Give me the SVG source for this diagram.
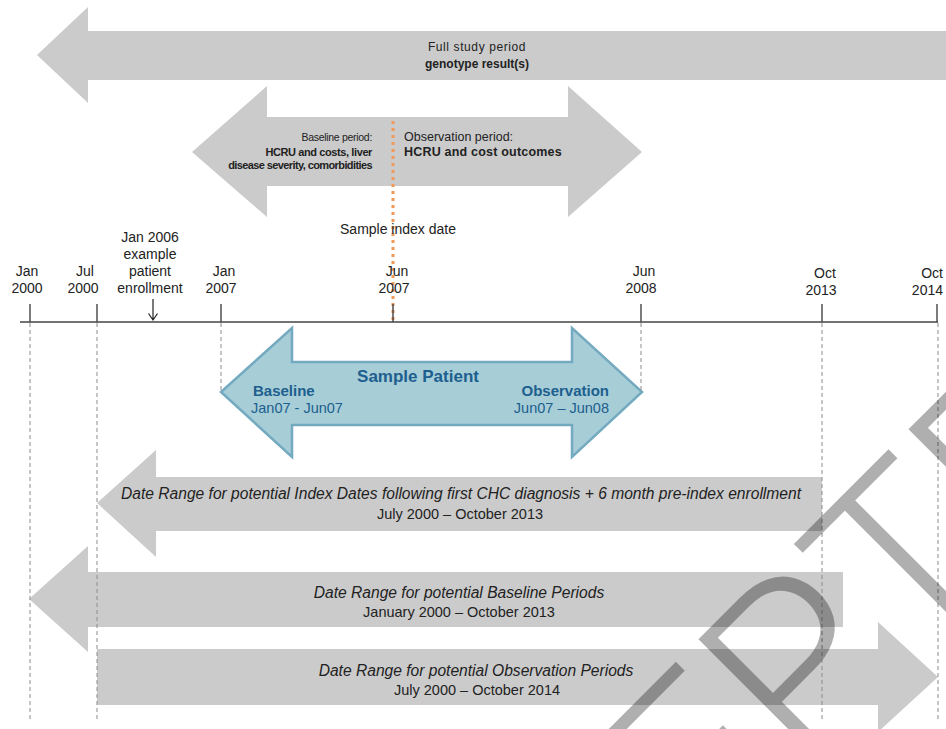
<svg xmlns="http://www.w3.org/2000/svg" width="946" height="729" viewBox="0 0 946 729">
<style>
.g{fill:#cbcbcb}
.t{font-family:"Liberation Sans",Arial,sans-serif;fill:#222}
.lbl{font-size:14px;text-anchor:middle}
.it{font-style:italic;font-size:15.6px;text-anchor:middle}
.sub{font-size:14.5px;text-anchor:middle}
.dash{stroke:#8c8c8c;stroke-width:1;stroke-dasharray:4 3;fill:none}
.tl{stroke:#444;stroke-width:1.4;fill:none}
.blue{font-family:"Liberation Sans",Arial,sans-serif;fill:#1d5f8e}
</style>
<rect width="946" height="729" fill="#fff"/>

<g id="full-study">
<path class="g" d="M946,31 H88 V7 L37,55 L88,103 V80 H946 Z"/>
<text class="t" x="477" y="51" font-size="12" text-anchor="middle" letter-spacing="0.6">Full study period</text>
<text class="t" x="477" y="68" font-size="12" font-weight="bold" text-anchor="middle">genotype  result(s)</text>
</g>

<g id="period-arrow">
<path class="g" d="M267,117 V86 L192,152 L267,217 V186 H568 V217 L642,152 L568,86 V117 Z"/>
<text class="t" x="372" y="141" font-size="10.5" text-anchor="end" letter-spacing="-0.3">Baseline period:</text>
<text class="t" x="372" y="156" font-size="11" font-weight="bold" text-anchor="end" letter-spacing="-0.4">HCRU and costs, liver</text>
<text class="t" x="372" y="169" font-size="11" font-weight="bold" text-anchor="end" letter-spacing="-0.6">disease severity, comorbidities</text>
<text class="t" x="404" y="141" font-size="12.5">Observation period:</text>
<text class="t" x="404" y="156" font-size="12.5" font-weight="bold" letter-spacing="0.2">HCRU  and cost outcomes</text>
</g>

<g id="sample-patient">
<path d="M292,362 V328 L221,392 L292,457 V425 H572 V457 L642,392 L572,328 V362 Z" fill="#a7cdd7" stroke="#74aac0" stroke-width="2.5" stroke-linejoin="miter"/>
<text class="blue" x="418" y="382" font-size="17" font-weight="bold" text-anchor="middle">Sample Patient</text>
<text class="blue" x="253" y="396" font-size="15" font-weight="bold">Baseline</text>
<text class="blue" x="251" y="413" font-size="14.5">Jan07  - Jun07</text>
<text class="blue" x="609" y="396" font-size="15" font-weight="bold" text-anchor="end">Observation</text>
<text class="blue" x="609" y="413" font-size="14.5" text-anchor="end">Jun07 – Jun08</text>
</g>

<g id="index-range">
<path class="g" d="M822,477 H156 V450 L97,503 L156,557 V531 H822 Z"/>
</g>
<g id="baseline-range">
<path class="g" d="M843,572 H88 V546 L29,599 L88,652 V627 H843 Z"/>
</g>
<g id="observation-range">
<path class="g" d="M97,649 H878 V622 L938,677 L878,732 V705 H97 Z"/>
</g>

<g id="connectors">
<line x1="393" y1="121" x2="393" y2="320" stroke="#f09a5a" stroke-width="3" stroke-dasharray="3 4"/>
<line class="tl" x1="20" y1="322" x2="938" y2="322"/>
<line class="tl" x1="30" y1="304" x2="30" y2="322"/>
<line class="tl" x1="97" y1="304" x2="97" y2="322"/>
<line class="tl" x1="221" y1="304" x2="221" y2="322"/>
<line class="tl" x1="393" y1="304" x2="393" y2="322"/>
<line class="tl" x1="641" y1="304" x2="641" y2="322"/>
<line class="tl" x1="822" y1="304" x2="822" y2="322"/>
<line class="tl" x1="937" y1="304" x2="937" y2="322"/>
<path d="M153,299 V320 M148.5,313.5 L153,320 L157.5,313.5" stroke="#222" stroke-width="1.2" fill="none"/>
<path class="dash" d="M30,323 V722 M97,323 V722 M221,323 V390 M641,323 V390 M822,323 V720 M938,323 V722"/>
</g>

<g id="range-texts">
<text class="t it" x="461" y="499">Date Range for potential Index Dates following  first CHC  diagnosis + 6 month pre-index  enrollment</text>
<text class="t sub" x="460" y="519">July 2000 – October 2013</text>
<text class="t it" x="459" y="598">Date Range for potential Baseline Periods</text>
<text class="t sub" x="459" y="617">January  2000 – October 2013</text>
<text class="t it" x="476" y="676">Date Range for potential Observation Periods</text>
<text class="t sub" x="477" y="695">July 2000 – October 2014</text>
</g>

<g id="timeline-labels">
<text class="t lbl" x="27" y="276">Jan</text>
<text class="t lbl" x="27" y="293">2000</text>
<text class="t lbl" x="85" y="276">Jul</text>
<text class="t lbl" x="83" y="293">2000</text>
<text class="t lbl" x="150" y="242">Jan 2006</text>
<text class="t lbl" x="150" y="259">example</text>
<text class="t lbl" x="150" y="276">patient</text>
<text class="t lbl" x="150" y="293">enrollment</text>
<text class="t lbl" x="224" y="276">Jan</text>
<text class="t lbl" x="221" y="293">2007</text>
<text class="t lbl" x="397" y="276">Jun</text>
<text class="t lbl" x="394" y="293">2007</text>
<text class="t lbl" x="644" y="276">Jun</text>
<text class="t lbl" x="641" y="293">2008</text>
<text class="t lbl" x="825" y="278">Oct</text>
<text class="t lbl" x="821" y="295">2013</text>
<text class="t" x="943" y="278" font-size="14" text-anchor="end">Oct</text>
<text class="t" x="943" y="295" font-size="14" text-anchor="end">2014</text>
<text class="t lbl" x="398" y="234" font-size="15.5">Sample  index date</text>
</g>

<g id="watermark" opacity="0.31">
<text x="0" y="0" transform="translate(375,1209) rotate(-45)" font-family="Roboto,'Open Sans','Liberation Sans',sans-serif" font-weight="300" font-size="245" fill="#000">ACCEPTED</text>
</g>
</svg>
